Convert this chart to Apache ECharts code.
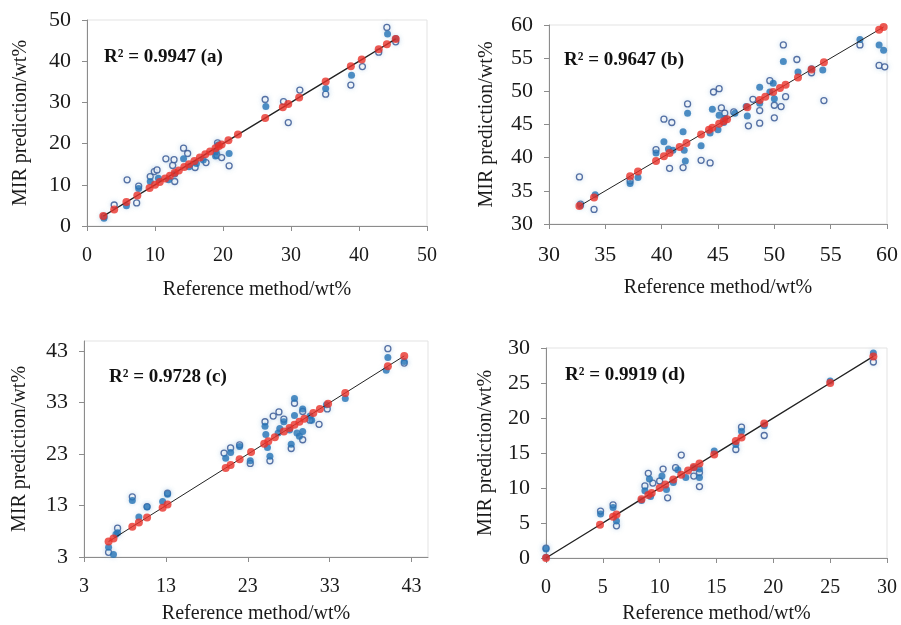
<!DOCTYPE html>
<html>
<head>
<meta charset="utf-8">
<title>MIR prediction vs reference</title>
<script src="https://cdn.jsdelivr.net/npm/echarts@6/dist/echarts.min.js"></script>
<style>
    html, body { margin: 0; padding: 0; background: #fff; }
    #main { width: 901px; height: 625px; }
</style>
</head>
<body>
<div id="main"></div>
<script>
// (a) 参考值（红点，落在1:1线上）
var aRef = [2.4, 4.0, 5.8, 7.4, 9.2, 10.0, 10.7, 11.5, 12.2, 12.9, 13.5, 14.3, 15.0, 15.8, 16.6, 17.4, 18.1, 18.9, 19.4, 19.8, 20.8, 22.2, 26.2, 28.8, 29.6, 31.2, 35.1, 38.8, 40.4, 42.9, 44.1, 45.4];
// (a) 实心点
var aCalX = [2.5, 5.8, 7.6, 9.3, 10.5, 12.0, 12.9, 14.2, 15.0, 16.1, 17.1, 19.0, 19.3, 18.9, 20.9, 26.3, 35.1, 38.9, 44.2, 45.4];
var aCalY = [1.9, 4.9, 9.1, 10.8, 11.6, 11.2, 12.6, 16.3, 14.4, 15.2, 16.0, 18.0, 19.7, 17.0, 17.6, 29.0, 33.4, 36.6, 46.6, 45.5];
// (a) 空心点
var aValX = [2.5, 4.0, 5.9, 7.3, 7.6, 9.3, 9.9, 10.3, 11.6, 12.6, 12.9, 12.8, 14.2, 14.8, 15.9, 17.5, 19.1, 19.2, 19.8, 20.9, 26.2, 28.9, 29.6, 31.3, 35.1, 38.8, 40.5, 42.9, 44.1, 45.4];
var aValY = [2.3, 5.1, 11.2, 5.6, 9.7, 12.0, 13.2, 13.6, 16.3, 14.7, 10.8, 16.1, 18.9, 17.6, 14.2, 15.4, 17.2, 20.2, 16.6, 14.6, 30.7, 30.2, 25.1, 33.0, 32.0, 34.2, 38.7, 42.2, 48.2, 44.7];

// (b)
var bRef = [32.7, 34.0, 37.2, 37.9, 39.5, 40.2, 40.7, 41.6, 42.2, 43.5, 44.2, 44.5, 45.1, 45.5, 45.8, 47.6, 48.7, 49.2, 49.9, 50.5, 51.0, 52.1, 53.3, 54.4, 59.3, 59.7];
var bCalX = [32.8, 34.1, 37.2, 37.9, 39.5, 40.2, 40.6, 41.0, 41.9, 42.0, 42.1, 42.3, 43.5, 44.3, 44.5, 45.0, 45.1, 45.5, 45.6, 46.5, 47.5, 47.6, 48.7, 48.7, 49.6, 49.9, 50.0, 50.8, 52.1, 53.3, 54.3, 57.6, 59.3, 59.7];
var bCalY = [32.8, 34.4, 36.1, 37.0, 40.7, 42.4, 41.3, 41.1, 43.9, 41.1, 39.5, 46.7, 41.8, 43.7, 47.3, 44.2, 46.4, 45.3, 45.9, 46.7, 47.7, 46.3, 48.2, 50.6, 49.9, 51.2, 48.9, 54.5, 52.9, 53.4, 53.2, 57.8, 57.0, 56.2];
var bValX = [32.7, 32.8, 34.0, 37.2, 39.5, 40.2, 40.7, 40.9, 41.9, 42.3, 43.5, 44.3, 44.6, 45.1, 45.3, 45.6, 46.4, 47.7, 48.1, 48.7, 48.7, 49.6, 50.0, 50.0, 50.6, 50.8, 51.0, 52.0, 53.3, 54.4, 57.6, 59.3, 59.8];
var bValY = [37.1, 33.0, 32.2, 36.5, 41.2, 45.8, 38.4, 45.3, 38.5, 48.1, 39.6, 39.2, 49.9, 50.4, 47.5, 46.7, 46.9, 44.8, 48.8, 45.2, 47.1, 51.6, 46.0, 47.9, 47.7, 57.0, 49.2, 54.8, 52.8, 48.6, 57.0, 53.9, 53.7];

// (c)
var cRef = [6.0, 6.6, 8.9, 9.7, 10.7, 12.6, 13.2, 20.3, 20.9, 22.0, 23.4, 25.0, 25.5, 26.3, 27.4, 28.1, 28.7, 29.3, 29.9, 31.0, 31.8, 32.8, 34.9, 40.1, 42.1];
var cCalX = [6.0, 6.6, 6.9, 7.1, 8.9, 9.7, 10.7, 12.6, 13.2, 20.3, 20.9, 22.0, 23.3, 25.1, 25.2, 25.4, 25.7, 26.7, 26.9, 27.4, 28.1, 28.3, 28.7, 28.7, 29.0, 29.3, 29.7, 29.7, 30.6, 30.8, 32.6, 34.9, 39.9, 40.1, 42.1];
var cCalY = [4.9, 3.5, 7.4, 7.7, 14.0, 10.8, 12.7, 13.8, 15.2, 22.2, 23.3, 24.5, 21.7, 28.4, 26.8, 24.3, 22.6, 27.1, 28.0, 29.3, 27.7, 24.9, 30.5, 33.8, 27.1, 26.5, 27.4, 31.8, 30.4, 29.6, 32.6, 33.8, 39.3, 41.8, 41.0];
var cValX = [6.0, 7.1, 8.9, 10.7, 13.2, 20.1, 20.9, 22.0, 23.3, 25.1, 25.7, 26.1, 26.8, 27.4, 28.3, 28.7, 29.7, 29.7, 30.6, 31.7, 32.7, 40.1, 42.1];
var cValY = [3.9, 8.6, 14.7, 12.8, 15.4, 23.2, 24.2, 24.8, 21.2, 29.3, 21.7, 30.4, 31.2, 29.8, 24.1, 32.9, 25.8, 31.3, 29.6, 28.8, 31.8, 43.5, 40.7];

// (d)
var dRef = [0.0, 4.75, 5.9, 6.2, 8.4, 9.0, 9.3, 10.0, 10.5, 11.2, 11.9, 12.5, 13.0, 13.5, 14.8, 16.7, 17.2, 19.2, 25.0, 28.8];
var dCalX = [0.0, 0.0, 4.8, 5.9, 6.2, 8.4, 8.7, 9.1, 9.2, 10.2, 10.6, 11.2, 11.6, 12.3, 13.0, 13.5, 13.5, 14.8, 16.7, 17.2, 19.2, 25.0, 28.8];
var dCalY = [1.3, 0.1, 6.3, 7.2, 5.3, 8.2, 9.6, 11.3, 8.8, 11.7, 9.8, 10.8, 12.6, 11.5, 12.9, 11.5, 12.7, 15.3, 16.2, 18.1, 18.9, 25.3, 29.3];
var dValX = [0.0, 4.8, 5.9, 6.2, 8.7, 9.0, 9.4, 10.0, 10.3, 10.7, 11.4, 11.9, 13.0, 13.5, 13.5, 16.7, 17.2, 19.2, 28.8];
var dValY = [1.4, 6.7, 7.6, 4.6, 10.3, 12.1, 10.7, 11.0, 12.7, 8.6, 12.9, 14.7, 11.7, 10.2, 12.2, 15.5, 18.7, 17.5, 28.0];

var panels = [
    {ref: aRef, cx: aCalX, cy: aCalY, vx: aValX, vy: aValY, min: 0, max: 50, interval: 10, ticks: null, label: 'R² = 0.9947 (a)'},
    {ref: bRef, cx: bCalX, cy: bCalY, vx: bValX, vy: bValY, min: 30, max: 60, interval: 5, ticks: null, label: 'R² = 0.9647 (b)'},
    {ref: cRef, cx: cCalX, cy: cCalY, vx: cValX, vy: cValY, min: 3, max: 45, interval: 10, ticks: [3, 13, 23, 33, 43], label: 'R² = 0.9728 (c)'},
    {ref: dRef, cx: dCalX, cy: dCalY, vx: dValX, vy: dValY, min: 0, max: 30, interval: 5, ticks: null, label: 'R² = 0.9919 (d)'}
];

// 布局（像素）
var grids = [
    {left: 87, right: 474, top: 20, bottom: 399},
    {left: 549, right: 14, top: 25, bottom: 401},
    {left: 84, right: 473, top: 341, bottom: 60},
    {left: 546, right: 14, top: 348, bottom: 66}
];
var xNameGap = [54, 54, 47, 46];
var yNameGap = [56, 52, 54, 50];
var xTickFont = [20, 22, 20, 20];
var yTickFont = [22, 22, 22, 22];
var textPos = [[99, 43], [559, 46], [104, 363], [560, 361]];

var serif = '"Liberation Serif", "Times New Roman", serif';
var axisGray = '#8c8c8c';

function zip(xs, ys){
    var out = [];
    for (var i = 0; i < xs.length; i++) {
        out.push([xs[i], ys[i]]);
    }
    return out;
}

var option = {
    backgroundColor: '#fff',
    animation: false,
    grid: [], xAxis: [], yAxis: [], series: [], title: []
};

panels.forEach(function(p, i){
    var g = grids[i];
    option.grid.push({left: g.left, right: g.right, top: g.top, bottom: g.bottom,
        show: true, borderColor: '#e3e3e3', borderWidth: 1});

    var axisBase = function(isX){
        var ax = {
            type: 'value', gridIndex: i, min: p.min, max: p.max, interval: p.interval,
            name: isX ? 'Reference method/wt%' : 'MIR prediction/wt%',
            nameLocation: 'middle',
            nameGap: isX ? xNameGap[i] : yNameGap[i],
            nameTextStyle: {fontFamily: serif, fontSize: 20, color: '#1a1a1a'},
            axisLine: {show: true, onZero: false, lineStyle: {color: axisGray, width: 1}},
            axisTick: {show: true, inside: false, length: 5, lineStyle: {color: axisGray}},
            axisLabel: {fontFamily: serif, fontSize: isX ? xTickFont[i] : yTickFont[i], color: '#1a1a1a', margin: isX ? 20 : 16},
            splitLine: {show: false}
        };
        if (p.ticks) {
            ax.axisLabel.customValues = p.ticks;
            ax.axisTick.customValues = p.ticks;
        }
        return ax;
    };
    option.xAxis.push(axisBase(true));
    option.yAxis.push(axisBase(false));

    var refPts = p.ref.map(function(v){ return [v, v]; });

    // 空心点
    option.series.push({
        type: 'scatter', xAxisIndex: i, yAxisIndex: i, z: 2,
        symbol: 'circle', symbolSize: 6,
        itemStyle: {color: '#fff', borderColor: '#2d4f8e', borderWidth: 1.3,
            shadowBlur: 5, shadowColor: 'rgba(140,180,215,0.45)'},
        data: zip(p.vx, p.vy)
    });
    // 实心点
    option.series.push({
        type: 'scatter', xAxisIndex: i, yAxisIndex: i, z: 3,
        symbol: 'circle', symbolSize: 7,
        itemStyle: {color: '#2473b5', shadowBlur: 5, shadowColor: 'rgba(140,180,215,0.45)'},
        data: zip(p.cx, p.cy)
    });
    // 1:1 线
    option.series.push({
        type: 'line', xAxisIndex: i, yAxisIndex: i, z: 4,
        showSymbol: false, silent: true,
        lineStyle: {color: '#222', width: i === 0 || i === 3 ? 1.4 : 1},
        data: refPts
    });
    // 参考值
    option.series.push({
        type: 'scatter', xAxisIndex: i, yAxisIndex: i, z: 5,
        symbol: 'circle', symbolSize: 8,
        itemStyle: {color: '#e8322b'},
        data: refPts
    });

    option.title.push({
        text: p.label, left: textPos[i][0], top: textPos[i][1],
        textStyle: {fontFamily: serif, fontSize: 19, fontWeight: 'bold', color: '#111'}
    });
});

var oChart = echarts.init(document.getElementById('main'), null, {renderer: 'canvas'});
oChart.setOption(option);
</script>
</body>
</html>
